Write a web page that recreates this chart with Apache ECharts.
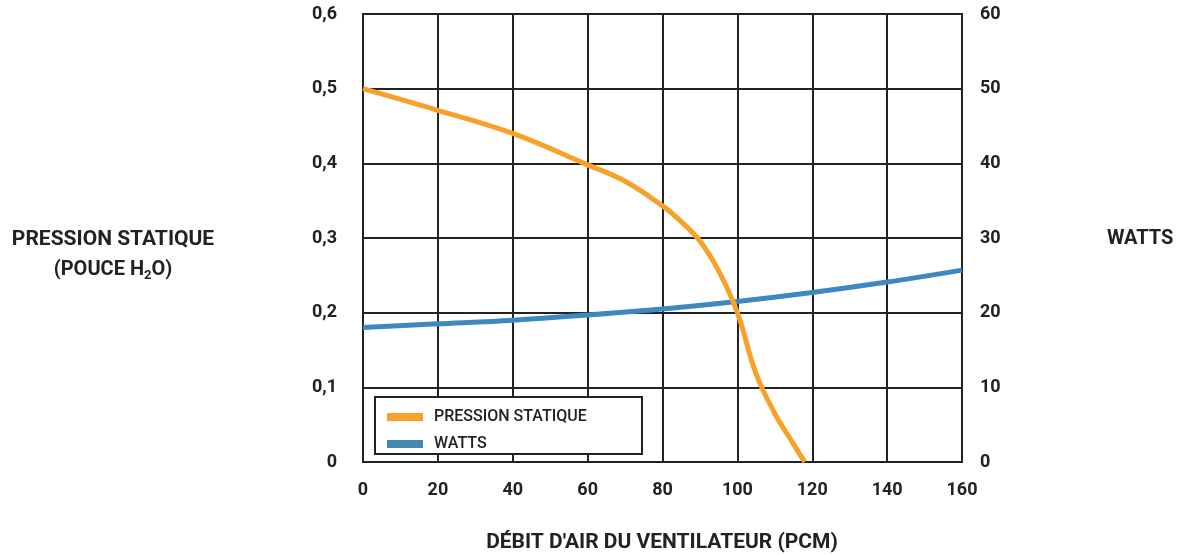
<!DOCTYPE html>
<html><head><meta charset="utf-8">
<script src="https://cdn.jsdelivr.net/npm/echarts@6/dist/echarts.min.js"></script>
<style>html,body{margin:0;padding:0;background:#fff}#c{width:1181px;height:556px}</style>
</head><body><div id="c"></div>
<script>
const xTicks = [0, 20, 40, 60, 80, 100, 120, 140, 160];
const pressureFlow = [0, 20, 40, 60, 70, 80, 85, 90, 95, 100, 105, 110, 115, 118];
const pressure = [0.5, 0.471, 0.44, 0.398, 0.376, 0.343, 0.322, 0.296, 0.256, 0.20, 0.118, 0.065, 0.024, 0.0];
const wattsFlow = [0, 20, 40, 60, 80, 100, 120, 140, 160];
const watts = [18, 18.5, 19, 19.7, 20.5, 21.5, 22.7, 24.1, 25.7];
const seriesNames = ['PRESSION STATIQUE', 'WATTS'];

const FONT = 'Roboto';
const TXT = '#222';
const chart = echarts.init(document.getElementById('c'));
const lab = {color: TXT, fontFamily: FONT, fontWeight: 'bold', fontSize: 18};
chart.setOption({
  animation: false,
  grid: {left: 363, right: 219, top: 14, bottom: 94, show: true, borderColor: '#222', borderWidth: 2},
  xAxis: {type: 'value', min: 0, max: 160, interval: 20,
    axisLine: {show: false}, axisTick: {show: false},
    splitLine: {show: true, lineStyle: {color: '#222', width: 2}},
    axisLabel: Object.assign({margin: 19}, lab)},
  yAxis: [
    {type: 'value', min: 0, max: 0.6, interval: 0.1,
     axisLine: {show: false}, axisTick: {show: false},
     splitLine: {show: true, lineStyle: {color: '#222', width: 2}},
     axisLabel: Object.assign({margin: 26, formatter: v => v === 0 ? '0' : v.toFixed(1).replace('.', ',')}, lab)},
    {type: 'value', min: 0, max: 60, interval: 10, position: 'right',
     axisLine: {show: false}, axisTick: {show: false}, splitLine: {show: false},
     axisLabel: Object.assign({margin: 18}, lab)}
  ],
  legend: {orient: 'vertical', left: 382, top: 404, itemWidth: 36, itemHeight: 8, itemGap: 11,
    icon: 'rect', textStyle: {color: TXT, fontFamily: FONT, fontWeight: 500, fontSize: 16, lineHeight: 16, padding: [0,0,0,6]},
    data: seriesNames},
  graphic: [
    {type: 'rect', left: 374, top: 396, z: 1, shape: {width: 267, height: 57},
     style: {fill: '#fff', stroke: '#222', lineWidth: 2}},
    {type: 'text', x: 662, y: 532, style: {text: "DÉBIT D'AIR DU VENTILATEUR (PCM)", fill: TXT, font: 'bold 21px ' + FONT, align: 'center'}},
    {type: 'text', x: 1107, y: 229, style: {text: 'WATTS', fill: TXT, font: 'bold 20px ' + FONT}},
    {type: 'text', x: 113, y: 229, style: {text: 'PRESSION STATIQUE', fill: TXT, font: 'bold 21px ' + FONT, align: 'center'}},
    {type: 'text', x: 113, y: 257, style: {
      text: '{a|(POUCE H}{s|2}{a|O)}', align: 'center',
      rich: {a: {fill: TXT, font: 'bold 20px ' + FONT}, s: {fill: TXT, font: 'bold 13px ' + FONT, padding: [12, 0, 0, 0]}}}}
  ],
  series: [
    {name: seriesNames[0], type: 'line', yAxisIndex: 0, smooth: 0.4, showSymbol: false, z: 3,
     lineStyle: {color: '#F7A128', width: 5}, itemStyle: {color: '#F7A128'},
     data: pressureFlow.map((x, i) => [x, pressure[i]])},
    {name: seriesNames[1], type: 'line', yAxisIndex: 1, smooth: 0.35, showSymbol: false, z: 2,
     lineStyle: {color: '#3F88BF', width: 5}, itemStyle: {color: '#4487B0'},
     data: wattsFlow.map((x, i) => [x, watts[i]])}
  ]
});
</script></body></html>
